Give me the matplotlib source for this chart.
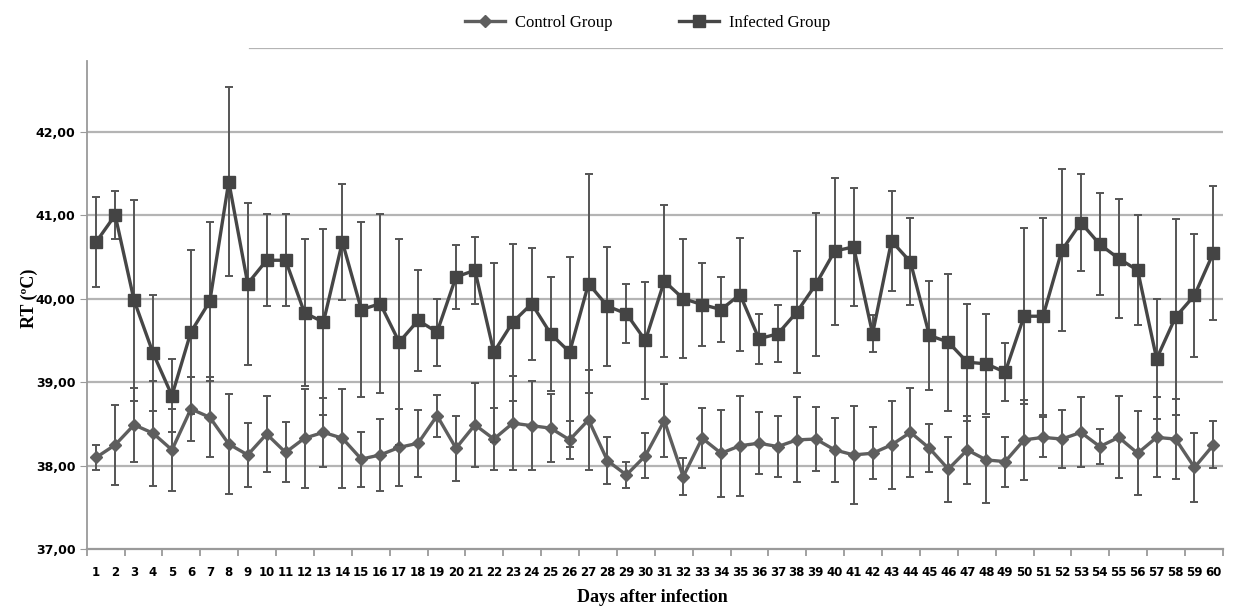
import numpy as np
import matplotlib.pyplot as plt
from matplotlib.lines import Line2D

days = list(range(1, 61))

control = [38.10, 38.25, 38.49, 38.39, 38.19, 38.68, 38.58, 38.26, 38.13, 38.38,
           38.16, 38.33, 38.40, 38.33, 38.08, 38.13, 38.22, 38.27, 38.60, 38.21,
           38.49, 38.32, 38.51, 38.48, 38.45, 38.31, 38.55, 38.06, 37.89, 38.12,
           38.54, 37.87, 38.33, 38.15, 38.24, 38.27, 38.23, 38.31, 38.32, 38.19,
           38.13, 38.15, 38.25, 38.40, 38.21, 37.96, 38.19, 38.07, 38.05, 38.31,
           38.34, 38.32, 38.40, 38.23, 38.34, 38.15, 38.34, 38.32, 37.98, 38.25]
control_sd = [0.15, 0.48, 0.44, 0.63, 0.49, 0.38, 0.48, 0.60, 0.38, 0.45,
              0.36, 0.59, 0.41, 0.59, 0.33, 0.43, 0.46, 0.40, 0.25, 0.39,
              0.50, 0.37, 0.56, 0.53, 0.41, 0.23, 0.60, 0.28, 0.15, 0.27,
              0.44, 0.22, 0.36, 0.52, 0.60, 0.37, 0.37, 0.51, 0.38, 0.38,
              0.59, 0.31, 0.53, 0.53, 0.29, 0.39, 0.41, 0.51, 0.30, 0.48,
              0.24, 0.35, 0.42, 0.21, 0.49, 0.50, 0.48, 0.48, 0.41, 0.28]

infected = [40.68, 41.00, 39.98, 39.35, 38.84, 39.60, 39.97, 41.40, 40.18, 40.46,
            40.46, 39.83, 39.72, 40.68, 39.87, 39.94, 39.48, 39.74, 39.60, 40.26,
            40.34, 39.36, 39.72, 39.94, 39.58, 39.36, 40.18, 39.91, 39.82, 39.50,
            40.21, 40.00, 39.93, 39.87, 40.05, 39.52, 39.58, 39.84, 40.17, 40.57,
            40.62, 39.58, 40.69, 40.44, 39.56, 39.48, 39.24, 39.22, 39.12, 39.79,
            39.79, 40.58, 40.91, 40.65, 40.48, 40.34, 39.28, 39.78, 40.04, 40.55]
infected_sd = [0.54, 0.29, 1.20, 0.70, 0.44, 0.98, 0.95, 1.13, 0.97, 0.55,
               0.55, 0.88, 1.11, 0.69, 1.05, 1.07, 1.23, 0.60, 0.40, 0.38,
               0.40, 1.07, 0.94, 0.67, 0.68, 1.14, 1.31, 0.71, 0.35, 0.70,
               0.91, 0.71, 0.50, 0.39, 0.68, 0.30, 0.34, 0.73, 0.86, 0.88,
               0.71, 0.22, 0.60, 0.52, 0.65, 0.82, 0.70, 0.60, 0.35, 1.05,
               1.18, 0.97, 0.58, 0.61, 0.71, 0.66, 0.72, 1.17, 0.74, 0.80]

y_ticks = [37, 38, 39, 40, 41, 42]

ctrl_col = "#5e5e5e"
inf_col = "#444444"

fig = plt.figure(figsize=(12.34, 6.08), dpi=100)
ax = fig.add_axes([0.0703, 0.0965, 0.9207, 0.8245])

for t in y_ticks[1:]:
    ax.axhline(t, color="#b4b4b4", lw=1.6, zorder=0)
# top line only partly visible in the original
ax.axhline(43, xmin=0.144, xmax=1, color="#b4b4b4", lw=1.6, zorder=0)

ax.errorbar(days, control, yerr=control_sd, color=ctrl_col, lw=2.4,
            marker="D", markersize=6, markerfacecolor=ctrl_col,
            markeredgecolor=ctrl_col, ecolor="#555555", elinewidth=1.4,
            capsize=3, capthick=1.4, zorder=3)
ax.errorbar(days, infected, yerr=infected_sd, color="#464646", lw=2.4,
            marker="s", markersize=8, markerfacecolor=inf_col,
            markeredgecolor=inf_col, ecolor="#555555", elinewidth=1.4,
            capsize=3, capthick=1.4, zorder=4)

ax.set_xlim(0.5, 60.5)
ax.set_ylim(37, 43)

for s in ["top", "right"]:
    ax.spines[s].set_visible(False)
ax.spines["left"].set_bounds(37, 42.85)
ax.spines["left"].set_color("#9a9a9a")
ax.spines["left"].set_linewidth(1.3)
ax.spines["bottom"].set_color("#9a9a9a")
ax.spines["bottom"].set_linewidth(1.6)

ax.set_yticks(y_ticks)
ax.set_yticklabels([f"{t:.2f}".replace(".", ",") for t in y_ticks],
                   fontsize=9, fontweight="bold", family="DejaVu Sans")
ax.tick_params(axis="y", length=5, color="#9a9a9a", pad=3)

ax.set_xticks(days)
ax.set_xticklabels([str(d) for d in days], fontsize=8.5, fontweight="bold",
                   family="DejaVu Sans")
ax.tick_params(axis="x", which="major", length=0, pad=12)
ax.set_xticks(np.arange(0.5, 61, 2), minor=True)
ax.tick_params(axis="x", which="minor", length=5, color="#9a9a9a", width=1.3)

ax.set_ylabel("RT (ºC)", fontsize=13, fontweight="bold",
              family="Liberation Serif")
ax.yaxis.set_label_coords(-0.043, 0.5)
fig.text(0.529, 0.017, "Days after infection", fontsize=13, fontweight="bold",
         family="Liberation Serif", ha="center", va="center")

handles = [
    Line2D([], [], color=ctrl_col, lw=2.4, marker="D", markersize=6),
    Line2D([], [], color="#464646", lw=2.4, marker="s", markersize=8,
           markerfacecolor=inf_col, markeredgecolor=inf_col),
]
fig.legend(handles, ["Control Group", "Infected Group"], loc="upper center",
           bbox_to_anchor=(0.525, 1.0), ncol=2, frameon=False,
           prop={"family": "Liberation Serif", "size": 12},
           columnspacing=4.0, handlelength=2.4, handletextpad=0.6)

fig.savefig("out.png", dpi=100)
